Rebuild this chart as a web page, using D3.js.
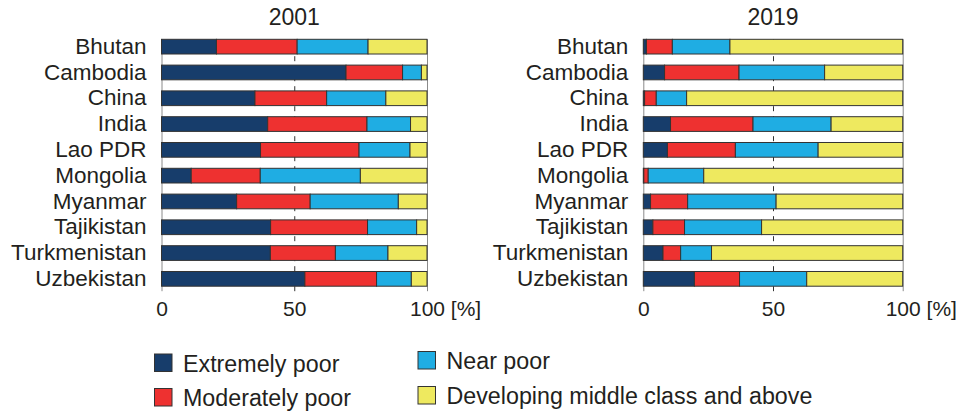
<!DOCTYPE html>
<html>
<head>
<meta charset="utf-8">
<script src="https://cdn.jsdelivr.net/npm/d3@7"></script>
<style>
  body { margin: 0; background: #fff; }
  text { fill: #231f20; font-family: "Liberation Sans", Arial, sans-serif; }
</style>
</head>
<body>
<div id="chart"></div>
<script>
// countries, top to bottom
var countries = ["Bhutan", "Cambodia", "China", "India", "Lao PDR", "Mongolia",
                 "Myanmar", "Tajikistan", "Turkmenistan", "Uzbekistan"];

var classes = ["Extremely poor", "Moderately poor", "Near poor", "Developing middle class and above"];
var classColors = ["#173d6b", "#ee3130", "#1fade3", "#eee95f"];

// 2001 shares [%]
var extreme2001  = [20.7, 69.5, 35.2, 40.0, 37.3, 11.2, 28.3, 41.1, 41.0, 54.0];
var moderate2001 = [30.4, 21.3, 27.0, 37.4, 37.1, 26.0, 27.7, 36.5, 24.5, 27.0];
var near2001     = [26.7,  7.1, 22.3, 16.4, 19.2, 37.7, 33.2, 18.5, 19.8, 13.1];
var middle2001   = [22.2,  2.1, 15.5,  6.2,  6.4, 25.1, 10.8,  3.9, 14.7,  5.9];

// 2019 shares [%]
var extreme2019  = [ 1.2,  8.2,  0.5, 10.5,  9.3,  0.2,  2.8,  3.7,  7.6, 19.7];
var moderate2019 = [10.0, 28.7,  4.5, 31.8, 26.2,  1.7, 14.3, 12.2,  6.8, 17.4];
var near2019     = [22.2, 33.0, 11.7, 30.1, 31.9, 21.4, 34.1, 29.7, 11.9, 25.9];
var middle2019   = [66.6, 30.1, 83.3, 27.6, 32.6, 76.7, 48.8, 54.4, 73.7, 37.0];

var xTicks = [0, 50, 100];

var W = 963, H = 413;
var svg = d3.select("#chart").append("svg")
  .attr("width", W).attr("height", H);

var keys = ["e", "m", "n", "d"];
var color = d3.scaleOrdinal().domain(keys).range(classColors);

function rows(e, m, n, d) {
  return countries.map(function(c, i) {
    return {name: c, e: e[i], m: m[i], n: n[i], d: d[i]};
  });
}

var panels = [
  {title: "2001", x0: 161.5, x1: 427, data: rows(extreme2001, moderate2001, near2001, middle2001)},
  {title: "2019", x0: 643.3, x1: 902.7, data: rows(extreme2019, moderate2019, near2019, middle2019)}
];

var yTop = 39.3, yBot = 286.2;
var y = d3.scaleBand().domain(countries).range([yTop, yBot]).paddingInner(0.43).paddingOuter(0);

panels.forEach(function(p) {
  var x = d3.scaleLinear().domain([0, 100]).range([p.x0, p.x1]);
  var g = svg.append("g");

  // axis with full-height tick lines
  var axis = g.append("g")
    .attr("transform", "translate(0," + (yBot + 5) + ")")
    .call(d3.axisBottom(x).tickValues(xTicks).tickSizeInner(-(yBot + 5 - yTop)).tickSizeOuter(0).tickPadding(10));
  axis.select(".domain").remove();
  axis.selectAll(".tick line")
    .attr("stroke", function(d) { return d === 50 ? "#333" : "#8a8a8a"; })
    .attr("stroke-width", 1)
    .attr("stroke-dasharray", function(d) { return d === 50 ? "5,5" : null; });
  axis.selectAll(".tick text")
    .attr("font-size", 21).attr("font-family", null).style("fill", "#231f20");
  // "100 [%]" — keep "100" centred on its tick
  axis.selectAll(".tick text").filter(function(d) { return d === 100; })
    .each(function() {
      var t = d3.select(this);
      var w = this.getComputedTextLength();
      t.attr("text-anchor", "start").attr("x", -w / 2).text("100 [%]");
    });

  // bars
  var stacked = d3.stack().keys(keys)(p.data);
  g.append("g").selectAll("g")
    .data(stacked)
    .enter().append("g")
      .attr("fill", function(d) { return color(d.key); })
      .selectAll("rect")
      .data(function(d) { return d; })
      .enter().append("rect")
        .attr("x", function(d) { return x(d[0]); })
        .attr("y", function(d) { return y(d.data.name); })
        .attr("width", function(d) { return x(d[1]) - x(d[0]); })
        .attr("height", y.bandwidth())
        .attr("stroke", "#333")
        .attr("stroke-width", 1);

  // country labels
  g.append("g").selectAll("text")
    .data(countries)
    .enter().append("text")
      .attr("x", p.x0 - 15)
      .attr("y", function(d) { return y(d) + y.bandwidth() / 2; })
      .attr("dy", "0.32em")
      .attr("text-anchor", "end")
      .attr("font-size", 22.5)
      .text(function(d) { return d; });

  // title
  g.append("text")
    .attr("x", (p.x0 + p.x1) / 2)
    .attr("y", 25)
    .attr("text-anchor", "middle")
    .attr("font-size", 23)
    .text(p.title);
});

// legend (two columns, two rows)
var legendPos = [
  {x: 154.5, y: 354},
  {x: 154.5, y: 388.5},
  {x: 418, y: 351.5},
  {x: 418, y: 386.5}
];
var leg = svg.append("g").selectAll("g")
  .data(classes)
  .enter().append("g")
    .attr("transform", function(d, i) { return "translate(" + legendPos[i].x + "," + legendPos[i].y + ")"; });
leg.append("rect")
  .attr("width", 17.5).attr("height", 17.5)
  .attr("fill", function(d, i) { return classColors[i]; })
  .attr("stroke", "#333").attr("stroke-width", 1);
leg.append("g")
  .attr("transform", "translate(28.5,17.5) scale(0.95,1)")
  .append("text")
    .attr("font-size", 24.5)
    .text(function(d) { return d; });
</script>
</body>
</html>
